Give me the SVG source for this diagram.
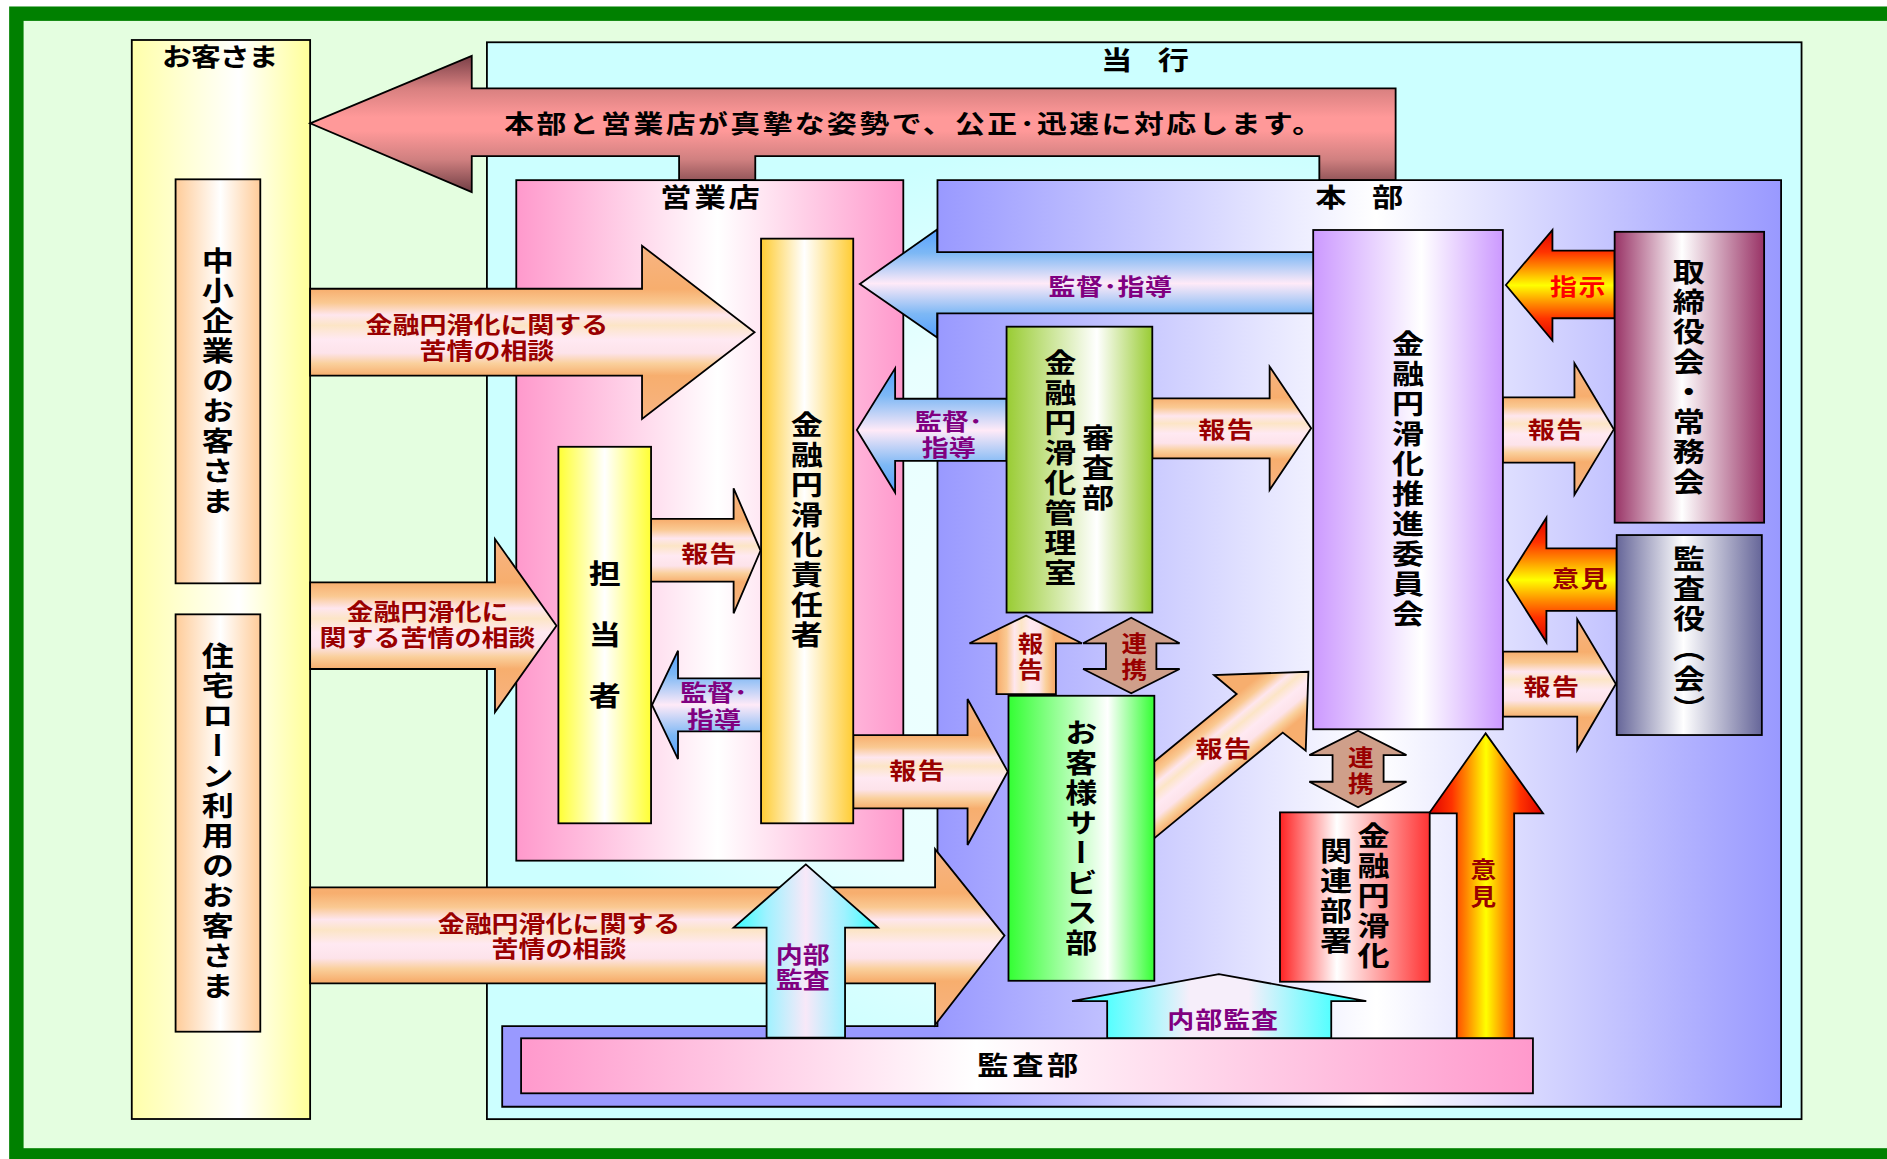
<svg xmlns="http://www.w3.org/2000/svg" xmlns:xlink="http://www.w3.org/1999/xlink" width="1887" height="1159" viewBox="0 0 1887 1159">
<style>
.bx{stroke:#000;stroke-width:1.5}
.ar{stroke:#000;stroke-width:1.5;stroke-linejoin:miter}
text{font-family:'Noto Sans CJK JP','Noto Sans CJK SC',sans-serif;font-weight:bold}
.v{writing-mode:vertical-rl;text-anchor:middle;font-size:23px;letter-spacing:2px;fill:#000}
.h{text-anchor:middle;fill:#000}
.lb{text-anchor:middle;fill:#990000;font-size:19px}
.pu{text-anchor:middle;fill:#800080;font-size:19px}
</style>
<defs>
<linearGradient id="gYel"><stop offset="0" stop-color="#FFFFAA"/><stop offset="0.6" stop-color="#FFFFFF"/><stop offset="1" stop-color="#FFFF99"/></linearGradient>
<linearGradient id="gPeach"><stop offset="0" stop-color="#FFCC99"/><stop offset="0.53" stop-color="#FFFFFF"/><stop offset="1" stop-color="#FFCC99"/></linearGradient>
<linearGradient id="gPinkBox"><stop offset="0" stop-color="#FF99CC"/><stop offset="0.52" stop-color="#FFFFFF"/><stop offset="1" stop-color="#FF99CC"/></linearGradient>
<linearGradient id="gGold"><stop offset="0" stop-color="#FFCC33"/><stop offset="0.47" stop-color="#FFFFFF"/><stop offset="1" stop-color="#FFCC33"/></linearGradient>
<linearGradient id="gYel2"><stop offset="0" stop-color="#FFFF33"/><stop offset="0.5" stop-color="#FFFFFF"/><stop offset="1" stop-color="#FFFF33"/></linearGradient>
<linearGradient id="gLime"><stop offset="0" stop-color="#99CC33"/><stop offset="0.62" stop-color="#FFFFFF"/><stop offset="1" stop-color="#99CC33"/></linearGradient>
<linearGradient id="gGreen"><stop offset="0" stop-color="#33FF33"/><stop offset="0.68" stop-color="#FFFFFF"/><stop offset="1" stop-color="#33FF33"/></linearGradient>
<linearGradient id="gPurp"><stop offset="0" stop-color="#CC99FF"/><stop offset="0.57" stop-color="#FFFFFF"/><stop offset="1" stop-color="#CC99FF"/></linearGradient>
<linearGradient id="gMaroon"><stop offset="0" stop-color="#993366"/><stop offset="0.45" stop-color="#FFFFFF"/><stop offset="1" stop-color="#993366"/></linearGradient>
<linearGradient id="gSlate"><stop offset="0" stop-color="#666699"/><stop offset="0.46" stop-color="#FFFFFF"/><stop offset="1" stop-color="#666699"/></linearGradient>
<linearGradient id="gRed"><stop offset="0" stop-color="#FF2222"/><stop offset="0.38" stop-color="#FFFFFF"/><stop offset="1" stop-color="#FF3333"/></linearGradient>
<linearGradient id="gPink2"><stop offset="0" stop-color="#FF99CC"/><stop offset="0.45" stop-color="#FFFFFF"/><stop offset="1" stop-color="#FF99CC"/></linearGradient>
<linearGradient id="gBlueBox" gradientUnits="userSpaceOnUse" x1="779" y1="0" x2="1480" y2="0"><stop offset="0" stop-color="#9999FF"/><stop offset="0.52" stop-color="#FFFFFF"/><stop offset="1" stop-color="#9999FF"/></linearGradient>
<radialGradient id="gCyanBox" gradientUnits="userSpaceOnUse" cx="0" cy="0" r="1" gradientTransform="translate(951 520) scale(600 480)"><stop offset="0" stop-color="#F2FFFF"/><stop offset="0.55" stop-color="#E8FFFF"/><stop offset="0.85" stop-color="#CCFFFF"/><stop offset="1" stop-color="#CCFFFF"/></radialGradient>
<linearGradient id="gRedArrow" x1="0" y1="0" x2="0" y2="1"><stop offset="0" stop-color="#7A4048"/><stop offset="0.24" stop-color="#D88080"/><stop offset="0.45" stop-color="#FF9999"/><stop offset="0.55" stop-color="#FF9999"/><stop offset="0.76" stop-color="#D08080"/><stop offset="1" stop-color="#703E44"/></linearGradient>
<linearGradient id="gOrgV" x1="0" y1="0" x2="0" y2="1"><stop offset="0" stop-color="#F7B482"/><stop offset="0.25" stop-color="#F7AE6E"/><stop offset="0.33" stop-color="#FAC992"/><stop offset="0.4" stop-color="#FEE6EE"/><stop offset="0.46" stop-color="#FCE5C6"/><stop offset="0.54" stop-color="#FFE9F2"/><stop offset="0.62" stop-color="#FDE3EA"/><stop offset="0.68" stop-color="#FAD09C"/><stop offset="0.75" stop-color="#F7AE6E"/><stop offset="1" stop-color="#F7B482"/></linearGradient>
<linearGradient id="gOrgH" xlink:href="#gOrgV" x1="0" y1="0" x2="1" y2="0"/>
<linearGradient id="gOrgD" gradientUnits="userSpaceOnUse" x1="959" y1="634.2" x2="990.4" y2="672.5"><stop offset="0" stop-color="#F7AE6E"/><stop offset="0.16" stop-color="#FAC992"/><stop offset="0.3" stop-color="#FEE6EE"/><stop offset="0.42" stop-color="#FCE5C6"/><stop offset="0.58" stop-color="#FFE9F2"/><stop offset="0.74" stop-color="#FDE3EA"/><stop offset="0.86" stop-color="#FAD09C"/><stop offset="1" stop-color="#F7AE6E"/></linearGradient>
<linearGradient id="gBlueA" x1="0" y1="0" x2="0" y2="1"><stop offset="0" stop-color="#55A0FF"/><stop offset="0.22" stop-color="#7DB8F5"/><stop offset="0.5" stop-color="#FFEAF8"/><stop offset="0.78" stop-color="#7DB8F5"/><stop offset="1" stop-color="#55A0FF"/></linearGradient>
<linearGradient id="gFire" x1="0" y1="0" x2="0" y2="1"><stop offset="0" stop-color="#DD0000"/><stop offset="0.2" stop-color="#FF3300"/><stop offset="0.33" stop-color="#FF8800"/><stop offset="0.5" stop-color="#FFFF00"/><stop offset="0.67" stop-color="#FF8800"/><stop offset="0.8" stop-color="#FF3300"/><stop offset="1" stop-color="#DD0000"/></linearGradient>
<linearGradient id="gFireH" xlink:href="#gFire" x1="0" y1="0" x2="1" y2="0"/>
<linearGradient id="gCyanA" x1="0" y1="0" x2="1" y2="0"><stop offset="0" stop-color="#33FFFF"/><stop offset="0.23" stop-color="#9FF2FF"/><stop offset="0.5" stop-color="#F8E8F8"/><stop offset="0.77" stop-color="#9FF2FF"/><stop offset="1" stop-color="#33FFFF"/></linearGradient>
<linearGradient id="gCyanB" x1="0" y1="0" x2="1" y2="0"><stop offset="0" stop-color="#33FFFF"/><stop offset="0.12" stop-color="#55FFFF"/><stop offset="0.4" stop-color="#F6EEFA"/><stop offset="0.6" stop-color="#F6EEFA"/><stop offset="0.88" stop-color="#55FFFF"/><stop offset="1" stop-color="#33FFFF"/></linearGradient>
</defs>
<rect width="1887" height="1159" fill="#FFFFFF"/>
<g transform="scale(1.20344 1.20104)">
<g id="frame"><rect x="13.6" y="11.4" width="1600" height="950.6" fill="#E4FEE0" stroke="#008000" stroke-width="12"/></g>

<g id="customers">
<rect class="bx" x="109.5" y="33.3" width="148.2" height="898.4" fill="url(#gYel)"/>
<text class="h" transform="translate(183 55) scale(1.18 1)" font-size="21" textLength="82" lengthAdjust="spacing">お客さま</text>
</g>
<g id="sme">
<rect class="bx" x="145.9" y="149.3" width="70.4" height="336.4" fill="url(#gPeach)"/>
<text class="v" transform="translate(181 317.5) scale(1.16 1)">中小企業のお客さま</text>
</g>
<g id="housing">
<rect class="bx" x="145.9" y="511.5" width="70.4" height="347.5" fill="url(#gPeach)"/>
<text class="v" transform="translate(181 684.5) scale(1.16 1)">住宅ローン利用のお客さま</text>
</g>

<g id="bank">
<rect class="bx" x="404.6" y="35.2" width="1092.4" height="896.6" fill="url(#gCyanBox)" stroke="#333"/>
<text class="h" transform="translate(951.5 58) scale(1.18 1)" font-size="22" textLength="62" lengthAdjust="spacing">当　行</text>
</g>

<g id="banner">
<path class="ar" d="M257.7,102.7 L392,46.6 L392,73.5 L1159.7,73.5 L1159.7,150 L1096.3,150 L1096.3,130 L627.6,130 L627.6,150 L564.3,150 L564.3,130 L392,130 L392,160 Z" fill="url(#gRedArrow)"/>
<text transform="translate(419 111) scale(1.18 1)" font-size="21" fill="#000" textLength="576" lengthAdjust="spacing">本部と営業店が真摯な姿勢で、公正･迅速に対応します。</text>
</g>

<g id="branch">
<rect class="bx" x="429" y="150" width="321.6" height="566.6" fill="url(#gPinkBox)"/>
<text class="h" transform="translate(590 172) scale(1.18 1)" font-size="22" textLength="70" lengthAdjust="spacing">営業店</text>
</g>
<g id="headoffice">
<path class="bx" d="M779,150 L1480,150 L1480,921.5 L417.3,921.5 L417.3,854.3 L779,854.3 Z" fill="url(#gBlueBox)"/>
<text class="h" transform="translate(1129.5 172) scale(1.18 1)" font-size="22" textLength="62" lengthAdjust="spacing">本　部</text>
</g>

<g id="connectors">
<path class="ar" d="M257.7,240.4 L533.5,240.4 L533.5,204.6 L627,276.7 L533.5,348.8 L533.5,312.8 L257.7,312.8 Z" fill="url(#gOrgV)"/>
<text class="lb" transform="translate(404.6 0) scale(1.18 1)"><tspan x="0" y="277">金融円滑化に関する</tspan><tspan x="0" y="299">苦情の相談</tspan></text>

<path class="ar" d="M257.7,484.9 L411.3,484.9 L411.3,448.8 L462.4,521 L411.3,593 L411.3,557 L257.7,557 Z" fill="url(#gOrgV)"/>
<text class="lb" transform="translate(355.2 0) scale(1.18 1)"><tspan x="0" y="516">金融円滑化に</tspan><tspan x="0" y="538">関する苦情の相談</tspan></text>

<path class="ar" d="M257.7,738.8 L777,738.8 L777,707 L834.7,779 L777,853.4 L777,818.8 L257.7,818.8 Z" fill="url(#gOrgV)"/>
<text class="lb" transform="translate(464.5 0) scale(1.18 1)"><tspan x="0" y="776">金融円滑化に関する</tspan><tspan x="0" y="797">苦情の相談</tspan></text>

<path class="ar" d="M714.5,236.5 L778.7,191 L778.7,210 L1092,210 L1092,261 L778.7,261 L778.7,281 Z" fill="url(#gBlueA)"/>
<text class="pu" transform="translate(922.5 245.6) scale(1.18 1)" textLength="87" lengthAdjust="spacing">監督･指導</text>

<path class="ar" d="M541,432 L609.6,432 L609.6,406.6 L632,458.4 L609.6,510.7 L609.6,484.3 L541,484.3 Z" fill="url(#gOrgV)"/>
<text class="lb" transform="translate(589 467.7) scale(1.18 1)" textLength="39" lengthAdjust="spacing">報告</text>

<path class="ar" d="M541.8,587 L563.4,541.8 L563.4,564.8 L632.4,564.8 L632.4,609 L563.4,609 L563.4,632 Z" fill="url(#gBlueA)"/>
<text class="pu" transform="translate(593.2 0) scale(1.18 1)"><tspan x="0" y="584">監督･</tspan><tspan x="0" y="606.4">指導</tspan></text>

<path class="ar" d="M712,358 L743.8,306.7 L743.8,332 L836.4,332 L836.4,383.8 L743.8,383.8 L743.8,410 Z" fill="url(#gBlueA)"/>
<text class="pu" transform="translate(788.3 0) scale(1.18 1)"><tspan x="0" y="358">監督･</tspan><tspan x="0" y="379.4">指導</tspan></text>

<path class="ar" d="M957.5,331.7 L1055,331.7 L1055,305.3 L1089.5,356.5 L1055,408 L1055,381.6 L957.5,381.6 Z" fill="url(#gOrgV)"/>
<text class="lb" transform="translate(1018.7 365) scale(1.18 1)" textLength="39" lengthAdjust="spacing">報告</text>

<path class="ar" d="M1251.3,237.3 L1290,191.5 L1290,208.7 L1341.7,208.7 L1341.7,265 L1290,265 L1290,283.6 Z" fill="url(#gFire)"/>
<text class="lb" transform="translate(1311 245.6) scale(1.18 1)" style="fill:#FF0000" textLength="39" lengthAdjust="spacing">指示</text>

<path class="ar" d="M1248.8,330.8 L1308.3,330.8 L1308.3,302.5 L1341,357.5 L1308.3,412 L1308.3,385.2 L1248.8,385.2 Z" fill="url(#gOrgV)"/>
<text class="lb" transform="translate(1292.5 365) scale(1.18 1)" textLength="39" lengthAdjust="spacing">報告</text>

<path class="ar" d="M1252.2,483 L1285,431 L1285,456.6 L1343.4,456.6 L1343.4,508.7 L1285,508.7 L1285,534.8 Z" fill="url(#gFire)"/>
<text class="lb" transform="translate(1312.7 488.5) scale(1.18 1)" textLength="39" lengthAdjust="spacing">意見</text>

<path class="ar" d="M1248.8,542.6 L1310.6,542.6 L1310.6,515.7 L1342.7,569.5 L1310.6,624.5 L1310.6,596.7 L1248.8,596.7 Z" fill="url(#gOrgV)"/>
<text class="lb" transform="translate(1289 578.7) scale(1.18 1)" textLength="39" lengthAdjust="spacing">報告</text>

<path class="ar" d="M852.5,512.6 L899,535.6 L877.4,535.6 L877.4,578 L828,578 L828,535.6 L805.6,535.6 Z" fill="url(#gOrgH)"/>
<text class="lb" transform="translate(856.4 0) scale(1.12 1)" font-size="20"><tspan x="0" y="542.6">報</tspan><tspan x="0" y="564.8">告</tspan></text>

<path class="ar" d="M940,514.3 L980.2,535.6 L960.9,535.6 L960.9,557 L980.2,557 L940,577.3 L900,557 L919,557 L919,535.6 L900,535.6 Z" fill="#CF9F8A"/>
<text class="lb" transform="translate(942.5 0) scale(1.12 1)" font-size="20"><tspan x="0" y="542.6">連</tspan><tspan x="0" y="564.8">携</tspan></text>

<path class="ar" d="M709,612 L804,612 L804,582 L837.4,642.5 L804,703.6 L804,673 L709,673 Z" fill="url(#gOrgV)"/>
<text class="lb" transform="translate(762 649) scale(1.18 1)" textLength="39" lengthAdjust="spacing">報告</text>

<path class="ar" d="M959,634.2 L1027.6,577.8 L1008.8,562 L1087.2,559.3 L1085,625 L1065.9,610 L959,698 Z" fill="url(#gOrgD)"/>
<text class="lb" transform="translate(1016.5 630) scale(1.18 1)" textLength="39" lengthAdjust="spacing">報告</text>

<path class="ar" d="M1128.5,608.4 L1168.7,628.7 L1149.7,628.7 L1149.7,650.9 L1168.7,650.9 L1128.5,672.2 L1088,650.9 L1107.3,650.9 L1107.3,628.7 L1088,628.7 Z" fill="#CF9F8A"/>
<text class="lb" transform="translate(1130.7 0) scale(1.12 1)" font-size="20"><tspan x="0" y="637.5">連</tspan><tspan x="0" y="659.5">携</tspan></text>

<path class="ar" d="M1234.5,610.6 L1282.2,677.2 L1258.2,677.2 L1258.2,864.5 L1210.5,864.5 L1210.5,677.2 L1187.5,677.2 Z" fill="url(#gFireH)"/>
<text class="lb" transform="translate(1232.5 0) scale(1.12 1)" font-size="20"><tspan x="0" y="731.3">意</tspan><tspan x="0" y="753.5">見</tspan></text>

<path class="ar" d="M669.6,719.7 L729.5,772.4 L702.2,772.4 L702.2,864 L637,864 L637,772.4 L609.6,772.4 Z" fill="url(#gCyanA)"/>
<text class="pu" transform="translate(667 0) scale(1.18 1)"><tspan x="0" y="802">内部</tspan><tspan x="0" y="823">監査</tspan></text>

<path class="ar" d="M890.8,833.5 L1012.8,811 L1135.3,833.5 L1106.2,833.5 L1106.2,864.5 L920,864.5 L920,833.5 Z" fill="url(#gCyanB)"/>
<text class="pu" transform="translate(1016 856) scale(1.18 1)" textLength="78" lengthAdjust="spacing">内部監査</text>
</g>

<g id="officer">
<rect class="bx" x="632.4" y="198.7" width="76.6" height="486.8" fill="url(#gGold)"/>
<text class="v" transform="translate(670.4 442) scale(1.16 1)">金融円滑化責任者</text>
</g>
<g id="staff">
<rect class="bx" x="464" y="372" width="77" height="313.5" fill="url(#gYel2)"/>
<text class="v" transform="translate(502.5 529.5) scale(1.16 1)" style="letter-spacing:2.5px">担　当　者</text>
</g>
<g id="mgmt">
<rect class="bx" x="836.4" y="272" width="121.1" height="238" fill="url(#gLime)"/>
<text class="v" transform="translate(881 390) scale(1.16 1)">金融円滑化管理室</text>
<text class="v" transform="translate(912.5 390.5) scale(1.16 1)">審査部</text>
</g>
<g id="service">
<rect class="bx" x="838" y="579.3" width="121.2" height="237.3" fill="url(#gGreen)"/>
<text class="v" transform="translate(898.5 698.5) scale(1.16 1)">お客様サービス部</text>
</g>
<g id="committee">
<rect class="bx" x="1091.2" y="191.5" width="157.6" height="415.7" fill="url(#gPurp)"/>
<text class="v" transform="translate(1170 399.7) scale(1.16 1)">金融円滑化推進委員会</text>
</g>
<g id="board">
<rect class="bx" x="1341.7" y="193" width="124.2" height="242.2" fill="url(#gMaroon)"/>
<text class="v" transform="translate(1403.4 314.3) scale(1.16 1)">取締役会・常務会</text>
</g>
<g id="auditors">
<rect class="bx" x="1343.4" y="445.5" width="120.6" height="166.5" fill="url(#gSlate)"/>
<text class="v" transform="translate(1403.5 528.5) scale(1.16 1)">監査役（会）</text>
</g>
<g id="related">
<rect class="bx" x="1063.6" y="676.4" width="124.4" height="141" fill="url(#gRed)"/>
<text class="v" transform="translate(1141.3 746.6) scale(1.16 1)">金融円滑化</text>
<text class="v" transform="translate(1110.2 746.6) scale(1.16 1)">関連部署</text>
</g>
<g id="audit">
<rect class="bx" x="433" y="864.5" width="840.8" height="45.8" fill="url(#gPink2)"/>
<text class="h" transform="translate(854 895) scale(1.18 1)" font-size="22" textLength="71" lengthAdjust="spacing">監査部</text>
</g>
</g>
</svg>
